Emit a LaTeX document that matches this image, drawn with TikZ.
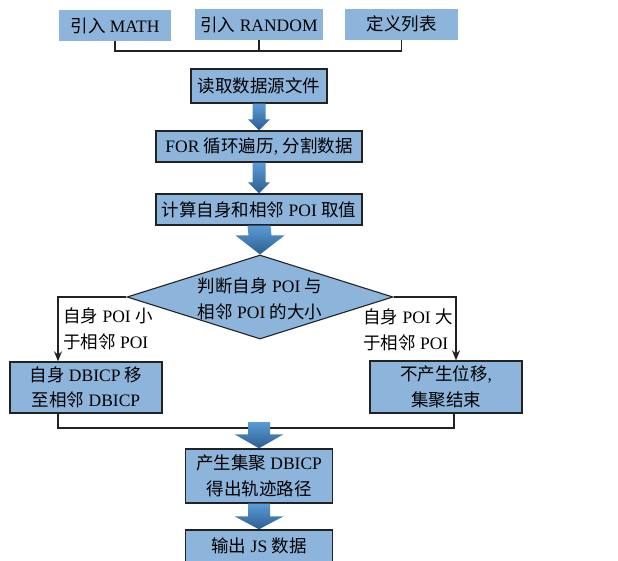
\documentclass[tikz,border=0pt]{standalone}
\usepackage{fontspec}
\setmainfont{Liberation Serif}
\newfontfamily\cjk{Noto Sans CJK SC}
\usetikzlibrary{shapes.geometric,arrows.meta,calc}
\newcommand\zh[1]{{\cjk #1}}
\definecolor{boxblue}{HTML}{8DB4DB}
\definecolor{arrtop}{HTML}{5B9BD5}
\definecolor{arrbot}{HTML}{2C5E92}
\definecolor{edge}{HTML}{222222}
% block arrow from #1 down to tip #2; #3 shaft half width, #4 head half width, #5 head length
\newcommand\barrow[5]{%
  \shade[top color=arrtop,bottom color=arrbot]
    ($(#1)+(-#3,0)$) -- ($(#2)+(-#3,-#5)$) -- ($(#2)+(-#4,-#5)$) -- (#2)
    -- ($(#2)+(#4,-#5)$) -- ($(#2)+(#3,-#5)$) -- ($(#1)+(#3,0)$) -- cycle;}
\begin{document}
\begin{tikzpicture}[x=1pt,y=-1pt,
  every node/.style={font=\fontsize{17.5}{25.5}\selectfont, inner sep=0pt, align=center},
  topbox/.style={fill=boxblue, minimum height=31},
  stepbox/.style={fill=boxblue, draw=edge, line width=1.4pt},
  link/.style={draw=edge, line width=1.1pt},
  tip/.style={link, -{Stealth[length=10pt,width=8pt]}}]
\useasboundingbox (0,0) rectangle (618,560);

% imports
\node[topbox, minimum width=112] (m1) at (115,25.5) {\zh{引入} MATH};
\node[topbox, minimum width=128] (m2) at (259,24.5) {\zh{引入} RANDOM};
\node[topbox, minimum width=113] (m3) at (401.5,24) {\zh{定义列表}};
\draw[link] (m1.south) -- (m1.south |- 0,51) -- (m3.south |- 0,51) -- (m3.south);
\draw[link] (m2.south) -- (m2.south |- 0,51);

% main sequence
\node[stepbox, minimum width=136, minimum height=34] (read) at (259,86) {\zh{读取数据源文件}};
\node[stepbox, minimum width=206, minimum height=31] (for) at (259,146.5) {FOR \zh{循环遍历}, \zh{分割数据}};
\node[stepbox, minimum width=206, minimum height=31] (calc) at (259,209.5) {\zh{计算自身和相邻} POI \zh{取值}};
\node[diamond, fill=boxblue, draw=edge, line width=1.1pt, minimum width=266, minimum height=84] (dia) at (260,297) {};
\node at (260,299) {\zh{判断自身} POI \zh{与}\\\zh{相邻} POI \zh{的大小}};

\barrow{read.south}{for.north}{6.5}{11}{11}
\barrow{for.south}{calc.north}{6.5}{11}{11}
\barrow{calc.south}{dia.north}{11.5}{24.5}{19}

% branches
\node[stepbox, minimum width=152, minimum height=51] (left) at (86,387.5) {\zh{自身} DBICP \zh{移}\\\zh{至相邻} DBICP};
\node[stepbox, minimum width=152, minimum height=52] (right) at (446,387) {\zh{不产生位移},\\\zh{集聚结束}};
\coordinate (lk) at (58,297);
\coordinate (rk) at (456,297);
\draw[tip] (dia.west) -- (lk) -- (lk |- left.north);
\draw[tip] (dia.east) -- (rk) -- (rk |- right.north);
\node[anchor=west, align=left] (llab) at (63,329) {\zh{自身} POI \zh{小}\\\zh{于相邻} POI};
\node[anchor=west, align=left] (rlab) at (363,330) {\zh{自身} POI \zh{大}\\\zh{于相邻} POI};

% merge
\coordinate (ml) at (58,428);
\coordinate (mr) at (454,428);
\draw[link] (ml |- left.south) -- (ml) -- (mr) -- (mr |- right.south);

\node[stepbox, minimum width=147, minimum height=54] (gen) at (259,476) {\zh{产生集聚} DBICP\\\zh{得出轨迹路径}};
\node[stepbox, minimum width=147, minimum height=32] (out) at (259,546) {\zh{输出} JS \zh{数据}};
\coordinate (mg) at (259,422);
\barrow{mg}{gen.north}{11}{24.5}{14}
\barrow{gen.south}{out.north}{11}{24.5}{13}
\end{tikzpicture}
\end{document}
